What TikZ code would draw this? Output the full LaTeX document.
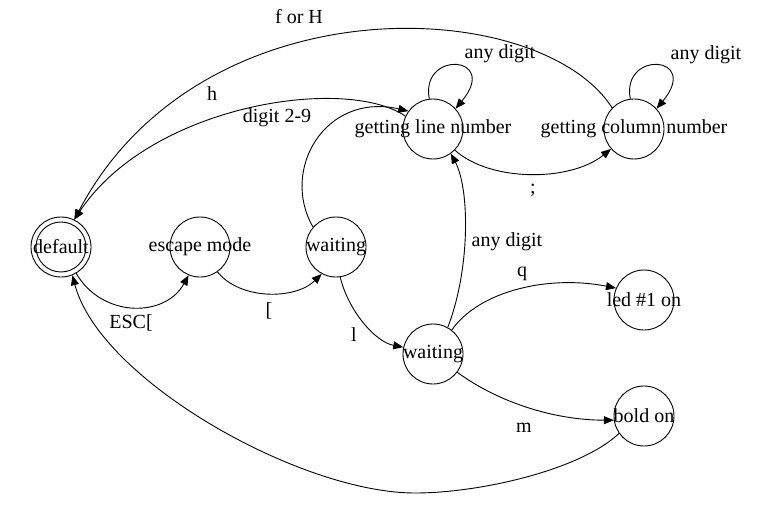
\documentclass[tikz,border=0pt]{standalone}
\usepackage{fontspec}
\setmainfont{Liberation Serif}
\usetikzlibrary{arrows.meta}
\begin{document}
\begin{tikzpicture}[x=1pt,y=-1pt,
  line width=0.9pt,
  >={Triangle[length=10pt,width=8pt]},
  state/.style={circle,draw,minimum size=60pt,inner sep=0pt,
    font=\fontsize{20}{24}\selectfont},
  lbl/.style={inner sep=0pt,font=\fontsize{20}{24}\selectfont},
  trans/.style={->}]
\useasboundingbox (0,0) rectangle (779,508);

% states (labels may spill over the circle)
\node[state] (default) at (61,247)  {\makebox[0pt]{default}};
\node[state] (escape)  at (200,247) {\makebox[0pt]{escape mode}};
\node[state] (wait1)   at (336,247) {\makebox[0pt]{waiting}};
\node[state] (wait2)   at (433,354) {\makebox[0pt]{waiting}};
\node[state] (line)    at (433,129) {\makebox[0pt]{getting line number}};
\node[state] (column)  at (634,129) {\makebox[0pt]{getting column number}};
\node[state] (led)     at (644,300) {\makebox[0pt]{led \#1 on}};
\node[state] (bold)    at (644,416) {\makebox[0pt]{bold on}};
% accepting state: inner ring
\draw (default) circle (25pt);

% transitions
\draw[trans] (default.-60) .. controls (102,318) and (165,318) .. (escape.-112);
\draw[trans] (escape.-55) .. controls (240,300) and (295,300) .. (wait1.-118);
\draw[trans] (wait1.-82) .. controls (348,310) and (375,342) .. (wait2.167);
\draw[trans] (wait1.139) .. controls (280,170) and (325,92) .. (line.144);
\draw[trans] (line.155) .. controls (345,75) and (150,105) .. (default.64);
\draw[trans] (column.136) .. controls (540,-5) and (200,-20) .. (default.64);
\draw[trans] (line.97) .. controls (420,50) and (500,55) .. (line.42);
\draw[trans] (column.97) .. controls (621,50) and (701,55) .. (column.42);
\draw[trans] (line.-44) .. controls (490,182) and (570,182) .. (column.-139);
\draw[trans] (wait2.61) .. controls (470,270) and (470,190) .. (line.-54);
\draw[trans] (wait2.52) .. controls (480,290) and (550,275) .. (led.157);
\draw[trans] (wait2.-37) .. controls (495,400) and (550,420) .. (bold.-172);
\coordinate (low) at (415,493);
\draw[trans] (bold.-145) .. controls (580,470) and (480,493) .. (low)
  .. controls (300,493) and (100,380) .. (default.-68);

% transition labels
\node[lbl] (tFH)   at (299,17)  {f or H};
\node[lbl] (th)    at (212,94)  {h};
\node[lbl] (td29)  at (277,118) {digit 2-9};
\node[lbl] (tad1)  at (500,54)  {any digit};
\node[lbl] (tad2)  at (706,55)  {any digit};
\node[lbl] (tsemi) at (533,190) {;};
\node[lbl] (tad3)  at (507,242) {any digit};
\node[lbl] (tq)    at (522,274) {q};
\node[lbl] (tbr)   at (269,311) {[};
\node[lbl] (tl)    at (354,335) {l};
\node[lbl] (tesc)  at (131,323) {ESC[};
\node[lbl] (tm)    at (524,428) {m};
\end{tikzpicture}
\end{document}
